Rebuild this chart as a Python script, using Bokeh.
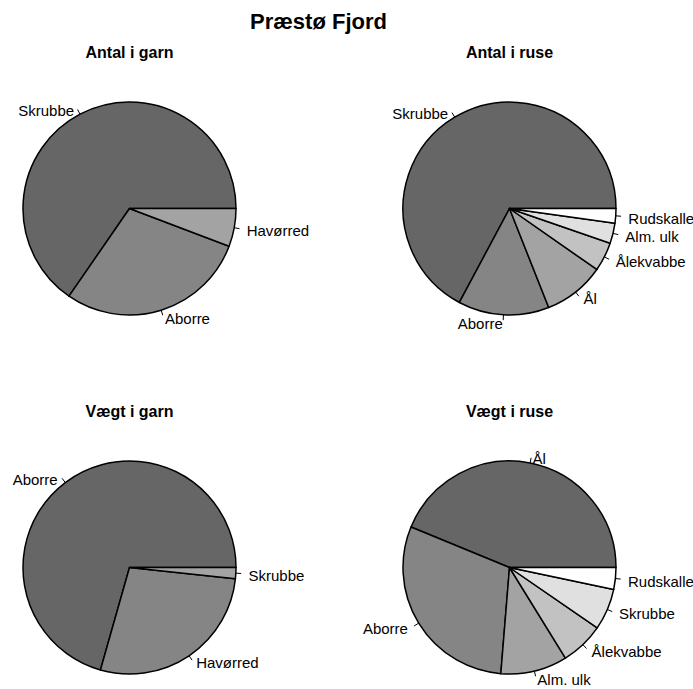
import numpy as np
from bokeh.plotting import figure
from bokeh.models import Range1d, ColumnDataSource
from bokeh.core.properties import value
from bokeh.embed import file_html
from bokeh.resources import INLINE

# ---------------- data ----------------
main_title = "Præstø Fjord"

antal_garn_title = "Antal i garn"
antal_garn_species = ["Skrubbe", "Aborre", "Havørred"]
antal_garn_values = [34, 15, 3]

antal_ruse_title = "Antal i ruse"
antal_ruse_species = ["Skrubbe", "Aborre", "Ål", "Ålekvabbe", "Alm. ulk", "Rudskalle"]
antal_ruse_values = [67.2, 13.8, 9.3, 4.4, 3.1, 2.2]

vaegt_garn_title = "Vægt i garn"
vaegt_garn_species = ["Aborre", "Havørred", "Skrubbe"]
vaegt_garn_values = [70.6, 27.7, 1.7]

vaegt_ruse_title = "Vægt i ruse"
vaegt_ruse_species = ["Ål", "Aborre", "Alm. ulk", "Ålekvabbe", "Skrubbe", "Rudskalle"]
vaegt_ruse_values = [43.8, 29.9, 10.1, 6.6, 6.3, 3.3]

slice_colors = ["#666666", "#858585", "#A3A3A3", "#C2C2C2", "#E0E0E0", "#FFFFFF"]

# ---------------- layout (page pixel coordinates, y downward) ----------------
col_x = [129, 509]
row_y = [208, 567]
R = 106.5        # pie radius (px)
RX, RY = 108.3, 102.5   # label ellipse radii as in reference
FONT = "Liberation Sans"

panels = [
    (antal_garn_title, antal_garn_species, antal_garn_values, col_x[0], row_y[0]),
    (antal_ruse_title, antal_ruse_species, antal_ruse_values, col_x[1], row_y[0]),
    (vaegt_garn_title, vaegt_garn_species, vaegt_garn_values, col_x[0], row_y[1]),
    (vaegt_ruse_title, vaegt_ruse_species, vaegt_ruse_values, col_x[1], row_y[1]),
]

W, H = 693, 689
p = figure(width=W, height=H, output_backend="svg", toolbar_location=None,
           x_range=Range1d(0, W), y_range=Range1d(-H, 0),
           min_border=0, x_axis_location=None, y_axis_location=None)
p.grid.visible = False
p.outline_line_color = None
p.background_fill_color = "white"
p.border_fill_color = "white"

# main title
p.text(x=[318], y=[-21], text=[main_title], text_font=value(FONT),
       text_font_size="22px", text_font_style="bold",
       text_align="center", text_baseline="middle", text_color="black")

for title, species, vals, cx, cy in panels:
    vals = np.asarray(vals, dtype=float)
    frac = vals / vals.sum()
    cum = np.concatenate([[0.0], np.cumsum(frac)])
    start = 2 * np.pi * cum[:-1]
    end = 2 * np.pi * cum[1:]
    n = len(vals)
    src = ColumnDataSource(dict(
        x=[cx] * n, y=[-cy] * n, start=start, end=end,
        color=slice_colors[:n]))
    p.wedge(x="x", y="y", radius=R, start_angle="start", end_angle="end",
            fill_color="color", line_color="black", line_width=1.5,
            line_join="round", source=src)

    mid = (start + end) / 2
    c, s = np.cos(mid), np.sin(mid)
    # tick marks
    p.segment(x0=cx + R * c, y0=-cy + R * s,
              x1=cx + 1.05 * R * c, y1=-cy + 1.05 * R * s,
              line_color="black", line_width=1)
    # labels
    lab = ColumnDataSource(dict(
        x=cx + 1.1 * RX * c,
        y=-cy + 1.1 * RY * s - 2,
        text=list(species),
        align=["left" if ci >= 0 else "right" for ci in c]))
    p.text(x="x", y="y", text="text", text_align="align", text_baseline="middle",
           text_font=value(FONT), text_font_size="15px", text_color="black",
           source=lab)

    # panel title
    p.text(x=[cx], y=[-cy + 156], text=[title], text_font=value(FONT),
           text_font_size="16px", text_font_style="bold",
           text_align="center", text_baseline="middle", text_color="black")

open("out.html", "w").write(file_html(p, INLINE))
